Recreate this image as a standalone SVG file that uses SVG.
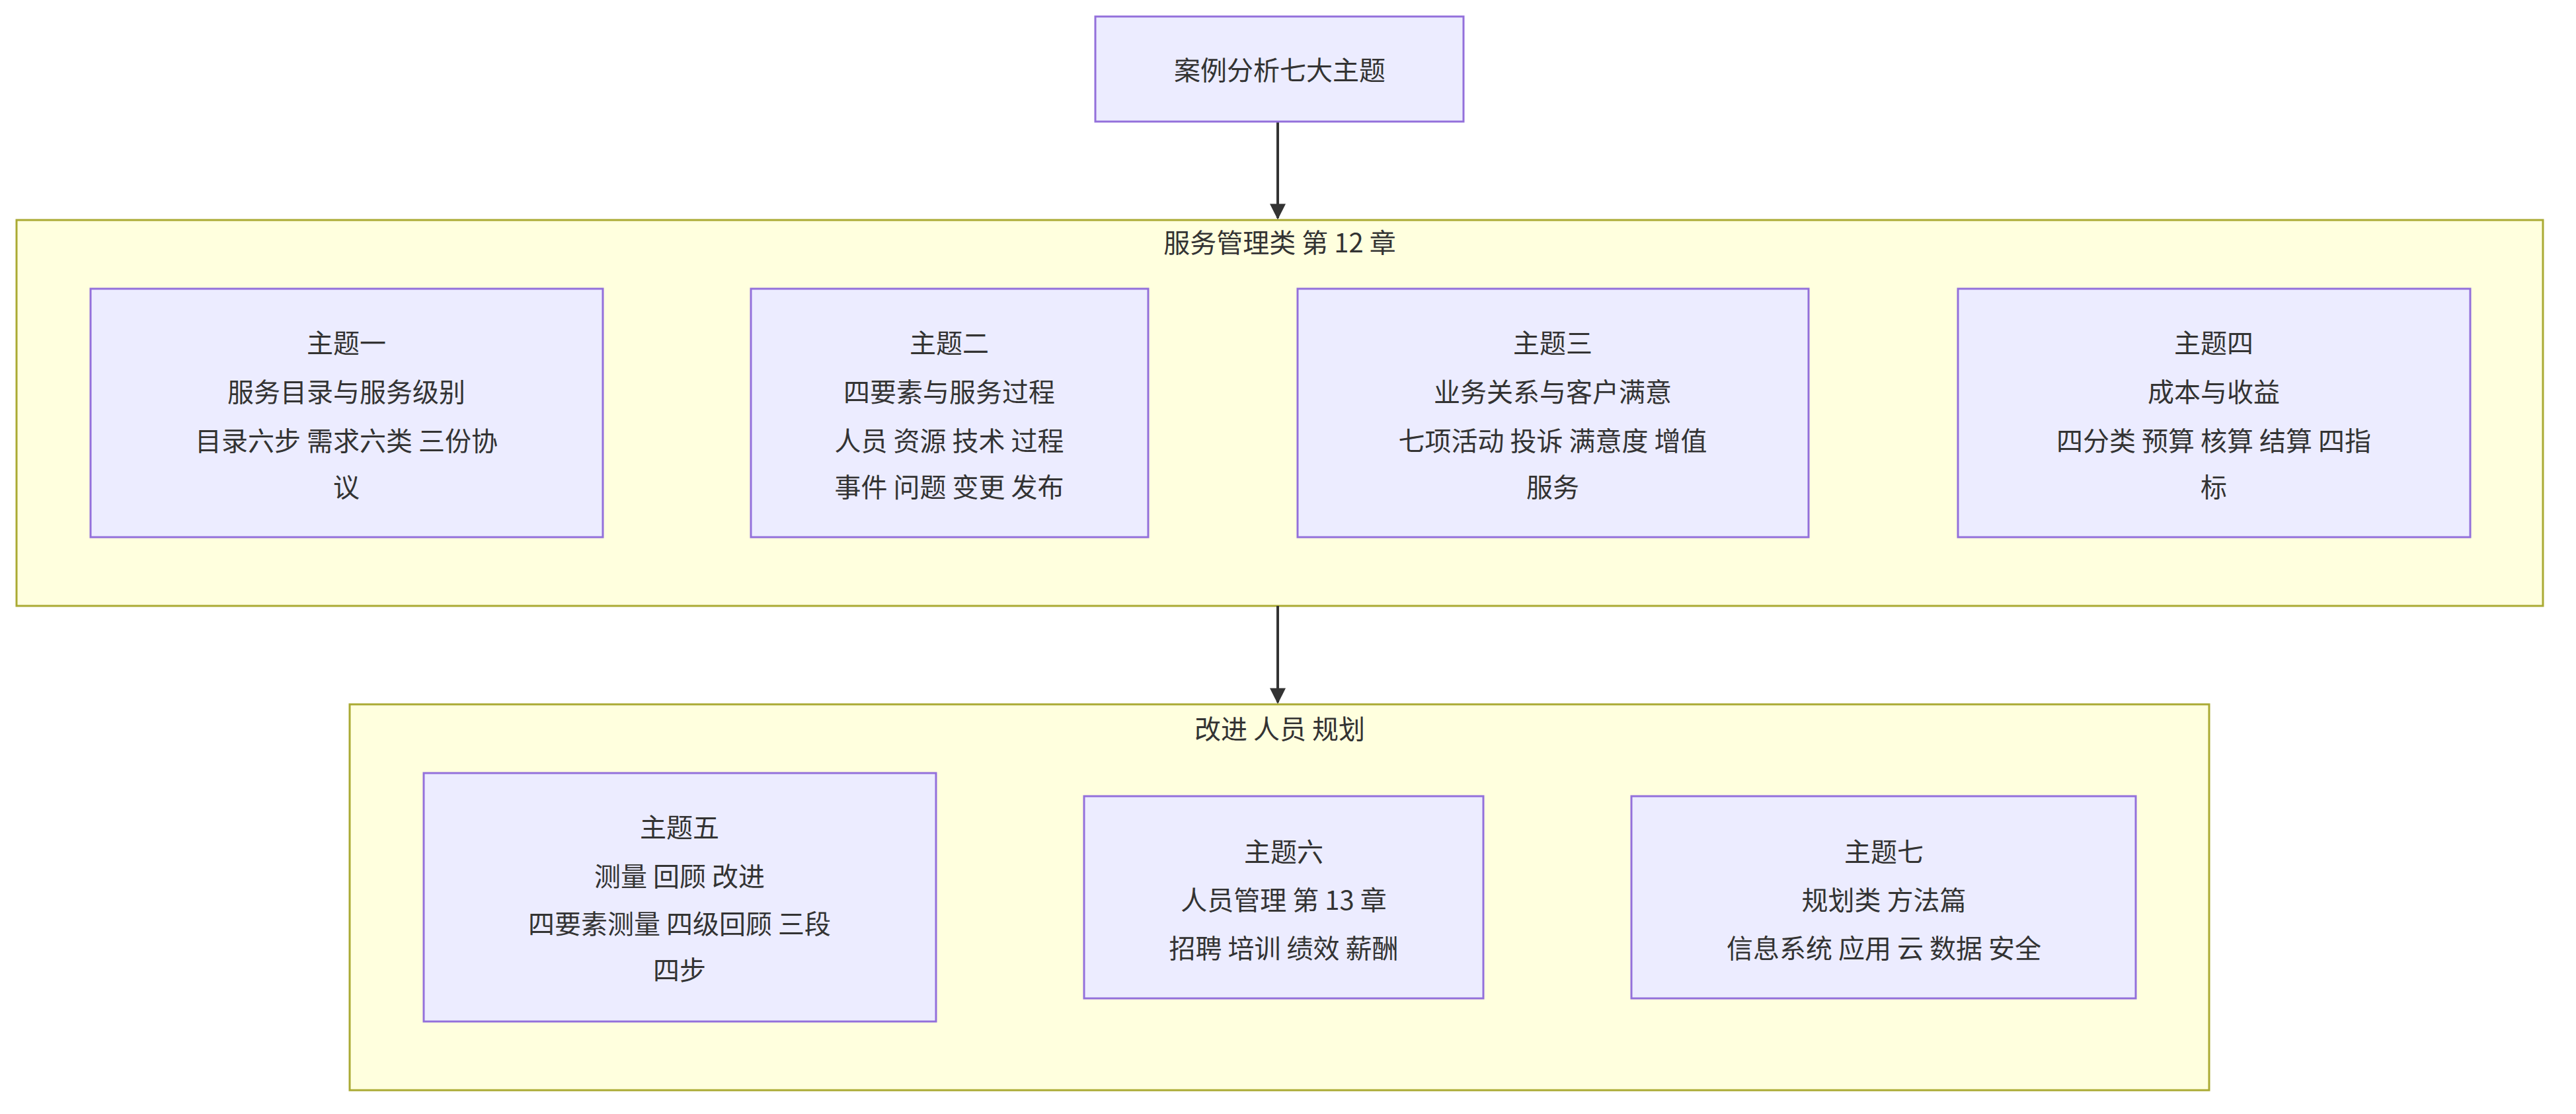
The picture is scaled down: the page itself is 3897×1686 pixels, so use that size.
<svg xmlns="http://www.w3.org/2000/svg" width="3897" height="1686" viewBox="0 0 3897 1686">
<style>
.n{fill:#ECECFF;stroke:#9370DB;stroke-width:3}
.c{fill:#ffffde;stroke:#aaaa33;stroke-width:3}
text{font-family:"Noto Sans CJK SC","Liberation Sans",sans-serif;font-size:40px;fill:#333;text-anchor:middle;dominant-baseline:central}
.e{stroke:#333;stroke-width:4;fill:none}
</style>
<defs><marker id="a" viewBox="0 0 10 10" refX="9" refY="5" markerWidth="6" markerHeight="6" orient="auto"><path d="M0,0L10,5L0,10z" fill="#333"/></marker></defs>
<rect width="3897" height="1686" fill="#fff"/>
<g id="cluster1"><rect class="c" x="25" y="333" width="3822" height="584"/><text x="1936" y="365">服务管理类 第 12 章</text></g>
<g id="cluster2"><rect class="c" x="529" y="1066" width="2813" height="584"/><text x="1936" y="1101">改进 人员 规划</text></g>
<g id="edges">
<path class="e" d="M1933,184V330" marker-end="url(#a)"/>
<path class="e" d="M1933,917V1063" marker-end="url(#a)"/>
</g>
<g id="top"><rect class="n" x="1657" y="25" width="557" height="159"/><text x="1936" y="104">案例分析七大主题</text></g>
<g id="t1"><rect class="n" x="137" y="437" width="775" height="376"/><text x="524" y="517">主题一</text><text x="524" y="591">服务目录与服务级别</text><text x="524" y="665">目录六步 需求六类 三份协</text><text x="524" y="735">议</text></g>
<g id="t2"><rect class="n" x="1136" y="437" width="601" height="376"/><text x="1436" y="517">主题二</text><text x="1436" y="591">四要素与服务过程</text><text x="1436" y="665">人员 资源 技术 过程</text><text x="1436" y="735">事件 问题 变更 发布</text></g>
<g id="t3"><rect class="n" x="1963" y="437" width="773" height="376"/><text x="2349" y="517">主题三</text><text x="2349" y="591">业务关系与客户满意</text><text x="2349" y="665">七项活动 投诉 满意度 增值</text><text x="2349" y="735">服务</text></g>
<g id="t4"><rect class="n" x="2962" y="437" width="775" height="376"/><text x="3349" y="517">主题四</text><text x="3349" y="591">成本与收益</text><text x="3349" y="665">四分类 预算 核算 结算 四指</text><text x="3349" y="735">标</text></g>
<g id="t5"><rect class="n" x="641" y="1170" width="775" height="376"/><text x="1028" y="1250">主题五</text><text x="1028" y="1324">测量 回顾 改进</text><text x="1028" y="1396">四要素测量 四级回顾 三段</text><text x="1028" y="1466">四步</text></g>
<g id="t6"><rect class="n" x="1640" y="1205" width="604" height="306"/><text x="1942" y="1287">主题六</text><text x="1942" y="1360">人员管理 第 13 章</text><text x="1942" y="1433">招聘 培训 绩效 薪酬</text></g>
<g id="t7"><rect class="n" x="2468" y="1205" width="763" height="306"/><text x="2850" y="1287">主题七</text><text x="2850" y="1360">规划类 方法篇</text><text x="2850" y="1433">信息系统 应用 云 数据 安全</text></g>
</svg>
